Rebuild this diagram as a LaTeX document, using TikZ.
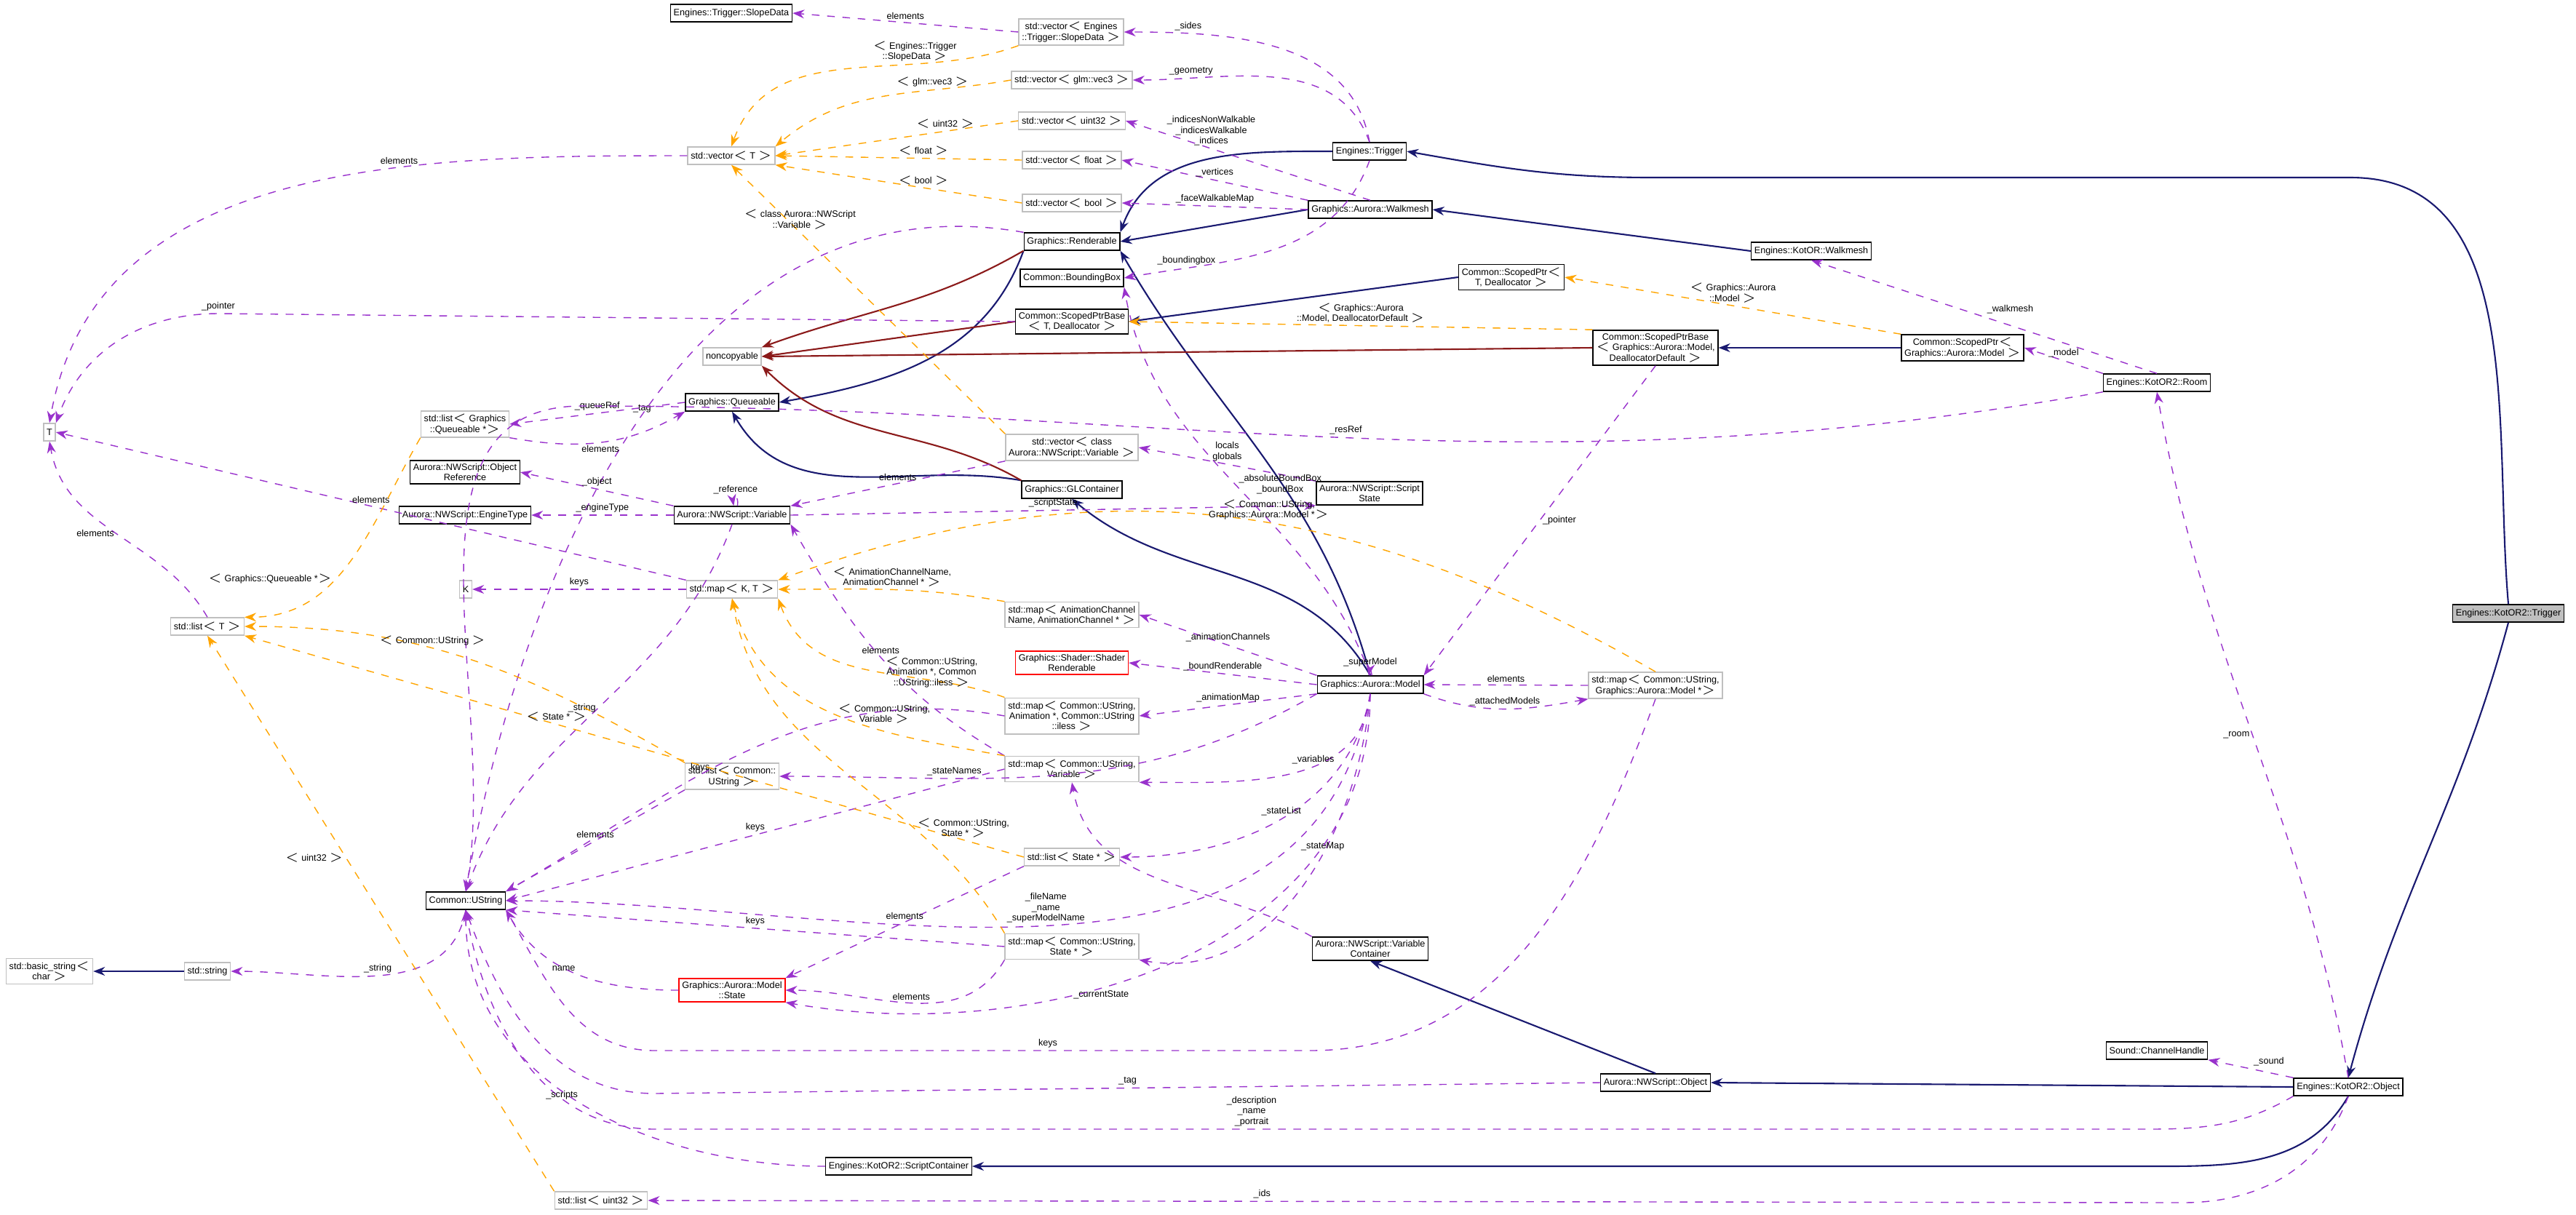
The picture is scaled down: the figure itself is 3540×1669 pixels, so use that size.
\documentclass[tikz,border=0pt]{standalone}
\usepackage{fontspec}
\setmainfont{Liberation Sans}
\usetikzlibrary{arrows.meta, positioning}
\definecolor{inhblue}{RGB}{25,25,112}
\definecolor{privred}{RGB}{139,26,26}
\definecolor{usepurple}{RGB}{153,50,204}
\definecolor{tplorange}{RGB}{255,165,0}
\tikzset{
  cls/.style={rectangle, draw=black, fill=white, inner sep=1.2pt, minimum height=0.24cm, align=center, font=\fontsize{3.6}{4.1}\selectfont},
  tplcls/.style={cls, draw=gray!50},
  redcls/.style={cls, draw=red},
  inh/.style={draw=inhblue, semithick, -{Stealth[length=1.6mm]}},
  priv/.style={draw=privred, semithick, -{Stealth[length=1.6mm]}},
  use/.style={draw=usepurple, dashed, -{Stealth[length=1.6mm]}},
  tmp/.style={draw=tplorange, dashed, -{Stealth[length=1.6mm]}},
  lbl/.style={font=\fontsize{3.6}{4.1}\selectfont, align=center, inner sep=1pt}
}
\begin{document}
\begin{tikzpicture}[x=0.01cm, y=-0.01cm]
\useasboundingbox (0,0) rectangle (3540,1669);

% classes
\node (SlopeData) [cls] at (1005,18) {Engines::Trigger::SlopeData};
\node (vecSlope) [tplcls] at (1472,44) {std::vector$<$ Engines\\::Trigger::SlopeData $>$};
\node (vecVec3) [tplcls] at (1473,110) {std::vector$<$ glm::vec3 $>$};
\node (vecUint) [tplcls] at (1473,166) {std::vector$<$ uint32 $>$};
\node (vecFloat) [tplcls] at (1473,220) {std::vector$<$ float $>$};
\node (vecBool) [tplcls] at (1473,279) {std::vector$<$ bool $>$};
\node (vecT) [tplcls] at (1005,214) {std::vector$<$ T $>$};
\node (engTrigger) [cls] at (1882,208) {Engines::Trigger};
\node (walkmesh) [cls] at (1883,288) {Graphics::Aurora::Walkmesh};
\node (renderable) [cls] at (1473,332) {Graphics::Renderable};
\node (bbox) [cls] at (1473,382) {Common::BoundingBox};
\node (sptrBase) [cls] at (1473,442) {Common::ScopedPtrBase\\$<$ T, Deallocator $>$};
\node (sptr) [cls] at (2077,381) {Common::ScopedPtr$<$\\T, Deallocator $>$};
\node (sptrBaseModel) [cls] at (2275,478) {Common::ScopedPtrBase\\$<$ Graphics::Aurora::Model,\\DeallocatorDefault $>$};
\node (kWalkmesh) [cls] at (2489,345) {Engines::KotOR::Walkmesh};
\node (sptrModel) [cls] at (2697,478) {Common::ScopedPtr$<$\\Graphics::Aurora::Model $>$};
\node (room) [cls] at (2964,526) {Engines::KotOR2::Room};
\node (kTrigger) [cls, fill=gray!50] at (3447,843) {Engines::KotOR2::Trigger};
\node (noncopy) [tplcls] at (1006,490) {noncopyable};
\node (queueable) [cls] at (1006,553) {Graphics::Queueable};
\node (listQ) [tplcls] at (639,583) {std::list$<$ Graphics\\::Queueable *$>$};
\node (T) [tplcls] at (68,594) {T};
\node (objRef) [cls] at (639,649) {Aurora::NWScript::Object\\Reference};
\node (engineType) [cls] at (639,708) {Aurora::NWScript::EngineType};
\node (variable) [cls] at (1006,708) {Aurora::NWScript::Variable};
\node (vecVar) [tplcls] at (1473,615) {std::vector$<$ class\\Aurora::NWScript::Variable $>$};
\node (glContainer) [cls] at (1473,673) {Graphics::GLContainer};
\node (scriptState) [cls] at (1882,678) {Aurora::NWScript::Script\\State};
\node (K) [tplcls] at (640,810) {K};
\node (mapKT) [tplcls] at (1006,810) {std::map$<$ K, T $>$};
\node (listT) [tplcls] at (285,861) {std::list$<$ T $>$};
\node (mapAnimCh) [tplcls] at (1473,845) {std::map$<$ AnimationChannel\\Name, AnimationChannel * $>$};
\node (shaderRend) [redcls] at (1473,911) {Graphics::Shader::Shader\\Renderable};
\node (model) [cls] at (1883,941) {Graphics::Aurora::Model};
\node (mapModel) [tplcls] at (2275,942) {std::map$<$ Common::UString,\\Graphics::Aurora::Model *$>$};
\node (mapAnim) [tplcls] at (1473,984) {std::map$<$ Common::UString,\\Animation *, Common::UString\\::iless $>$};
\node (listUStr) [tplcls] at (1006,1067) {std::list$<$ Common::\\UString $>$};
\node (mapVar) [tplcls] at (1473,1057) {std::map$<$ Common::UString,\\Variable $>$};
\node (listState) [tplcls] at (1473,1178) {std::list$<$ State * $>$};
\node (ustring) [cls] at (640,1238) {Common::UString};
\node (mapState) [tplcls] at (1473,1301) {std::map$<$ Common::UString,\\State * $>$};
\node (basicStr) [tplcls] at (68,1335) {std::basic\_string$<$\\char $>$};
\node (stdString) [tplcls] at (285,1335) {std::string};
\node (mState) [redcls] at (1006,1361) {Graphics::Aurora::Model\\::State};
\node (varContainer) [cls] at (1883,1304) {Aurora::NWScript::Variable\\Container};
\node (soundCH) [cls] at (2964,1444) {Sound::ChannelHandle};
\node (nwObject) [cls] at (2275,1488) {Aurora::NWScript::Object};
\node (kObject) [cls] at (3227,1494) {Engines::KotOR2::Object};
\node (scriptCont) [cls] at (1235,1603) {Engines::KotOR2::ScriptContainer};
\node (listUint) [tplcls] at (826,1650) {std::list$<$ uint32 $>$};

% inheritance
\draw[inh] (kTrigger.north) to[out=95,in=0] (3230,244) -- (2270,244) to[out=180,in=-10] (engTrigger.east);
\draw[inh] (kTrigger.south) to[out=-105,in=75] (kObject.north);
\draw[inh] (engTrigger.west) to[out=180,in=70] (renderable.north east);
\draw[inh] (walkmesh.west) -- (renderable.east);
\draw[inh] (kWalkmesh.west) -- (walkmesh.east);
\draw[inh] (sptr.west) -- (sptrBase.east);
\draw[inh] (sptrModel.west) -- (sptrBaseModel.east);
\draw[inh] (renderable.south west) to[out=-110,in=10] (queueable.east);
\draw[inh] (glContainer.north west) to[out=170,in=-60] (queueable.south);
\draw[inh] (model.north) to[out=105,in=-60] (renderable.south east);
\draw[inh] (model.north) to[out=120,in=-40] (glContainer.south);
\draw[inh] (nwObject.north) -- (varContainer.south);
\draw[inh] (kObject.west) -- (nwObject.east);
\draw[inh] (kObject.south) to[out=-120,in=0] (2950,1603) -- (scriptCont.east);
\draw[inh] (stdString.west) -- (basicStr.east);
\draw[priv] (renderable.south west) to[out=-150,in=20] (noncopy.north east);
\draw[priv] (sptrBase.west) -- (noncopy.east);
\draw[priv] (sptrBaseModel.west) -- (noncopy.east);
\draw[priv] (glContainer.north west) to[out=150,in=-45] (noncopy.south east);

% usage
\draw[use] (vecSlope.west) -- node[lbl, above]{elements} (SlopeData.east);
\draw[use] (engTrigger.north) to[out=100,in=0] node[lbl, above, pos=0.8]{\_sides} (vecSlope.east);
\draw[use] (engTrigger.north) to[out=110,in=0] node[lbl, above, pos=0.8]{\_geometry} (vecVec3.east);
\draw[use] (walkmesh.north) -- node[lbl, above, pos=0.65]{\_indicesNonWalkable\\\_indicesWalkable\\\_indices} (vecUint.east);
\draw[use] (walkmesh.north west) -- node[lbl, above]{\_vertices} (vecFloat.east);
\draw[use] (walkmesh.west) -- node[lbl, above]{\_faceWalkableMap} (vecBool.east);
\draw[use] (engTrigger.south) to[out=-110,in=10] node[lbl, above, pos=0.8]{\_boundingbox} (bbox.east);
\draw[use] (vecT.west) to[out=180,in=80] node[lbl, above, pos=0.35]{elements} (T.north);
\draw[use] (renderable.north west) to[out=170,in=80] node[lbl, above, pos=0.5]{\_tag} (ustring.north);
\draw[use] (sptrBase.west) -- (300,431) to[out=180,in=70] node[lbl, above, pos=0]{\_pointer} (T.north east);
\draw[use] (queueable.west) -- node[lbl, above]{\_queueRef} (listQ.east);
\draw[use] (listQ.south east) to[out=-10,in=-150] node[lbl, below]{elements} (queueable.south west);
\draw[use] (variable.north west) -- node[lbl, above]{\_object} (objRef.east);
\draw[use] (variable.west) -- node[lbl, above]{\_engineType} (engineType.east);
\draw[use] (variable.60) to[out=80,in=100,looseness=8] node[lbl, above]{\_reference} (variable.80);
\draw[use] (mapKT.north west) -- node[lbl, above]{elements} (T.east);
\draw[use] (mapKT.west) -- node[lbl, above]{keys} (K.east);
\draw[use] (listT.north) to[out=120,in=-80] node[lbl, left]{elements} (T.south);
\draw[use] (vecVar.south west) -- node[lbl, above]{elements} (variable.north east);
\draw[use] (scriptState.north west) -- node[lbl, above]{locals\\globals} (vecVar.east);
\draw[use] (variable.east) -- node[lbl, above]{\_scriptState} (scriptState.south west);
\draw[use] (model.north) to[out=110,in=-80] node[lbl, right, pos=0.5]{\_absoluteBoundBox\\\_boundBox} (bbox.south east);
\draw[use] (sptrBaseModel.south) -- node[lbl, right]{\_pointer} (model.north east);
\draw[use] (room.north west) -- node[lbl, above]{\_model} (sptrModel.east);
\draw[use] (room.north) -- node[lbl, above right]{\_walkmesh} (kWalkmesh.south);
\draw[use] (room.south west) to[out=190,in=0] node[lbl, above]{\_resRef} (800,558) to[out=180,in=80] (ustring.north);
\draw[use] (model.north west) -- node[lbl, above]{\_animationChannels} (mapAnimCh.east);
\draw[use] (model.west) -- node[lbl, above]{\_boundRenderable} (shaderRend.east);
\draw[use] (model.south west) -- node[lbl, above]{\_animationMap} (mapAnim.east);
\draw[use] (model.80) to[out=100,in=80,looseness=6] node[lbl, above]{\_superModel} (model.100);
\draw[use] (mapModel.west) -- node[lbl, above]{elements} (model.east);
\draw[use] (model.south east) to[out=-20,in=190] node[lbl, above]{\_attachedModels} (mapModel.south west);
\draw[use] (listUStr.south west) -- node[lbl, above]{elements} (ustring.north east);
\draw[use] (mapVar.west) -- node[lbl, above]{keys} (ustring.east);
\draw[use] (mapVar.north west) to[out=150,in=-60] node[lbl, above]{elements} (variable.south east);
\draw[use] (mapAnim.west) to[out=170,in=30] node[lbl, above, pos=0.6]{keys} (ustring.north east);
\draw[use] (model.south west) to[out=-150,in=0] node[lbl, above, pos=0.7]{\_stateNames} (listUStr.east);
\draw[use] (model.south) to[out=-100,in=0] node[lbl, above, pos=0.5]{\_stateList} (listState.east);
\draw[use] (model.south) to[out=-100,in=0] node[lbl, above, pos=0.5]{\_fileName\\\_name\\\_superModelName} (ustring.east);
\draw[use] (model.south) to[out=-95,in=0] node[lbl, above, pos=0.4]{\_variables} (mapVar.south east);
\draw[use] (model.south) to[out=-95,in=-10] node[lbl, above, pos=0.4]{\_stateMap} (mapState.south east);
\draw[use] (model.south) to[out=-90,in=-10] node[lbl, below, pos=0.6]{\_currentState} (mState.south east);
\draw[use] (listState.south west) -- node[lbl, above]{elements} (mState.north east);
\draw[use] (mapState.south west) to[out=-120,in=0] node[lbl, above]{elements} (mState.east);
\draw[use] (mapState.west) -- node[lbl, above]{keys} (ustring.south east);
\draw[use] (mState.west) to[out=180,in=-60] node[lbl, above left]{name} (ustring.south east);
\draw[use] (ustring.south) to[out=-100,in=0] node[lbl, above]{\_string} (stdString.east);
\draw[use] (variable.south) to[out=-110,in=70] node[lbl, left, pos=0.5]{\_string} (ustring.north);
\draw[use] (nwObject.west) -- node[lbl, above]{\_tag} (900,1503) to[out=180,in=-70] (ustring.south);
\draw[use] (kObject.south west) to[out=-150,in=0] (2950,1552) -- node[lbl, above, pos=0.6]{\_description\\\_name\\\_portrait} (900,1552) to[out=180,in=-80] (ustring.south);
\draw[use] (mapModel.south) to[out=-110,in=0] (1800,1444) -- node[lbl, above, pos=0.4]{keys} (900,1444) to[out=180,in=-60] (ustring.south east);
\draw[use] (scriptCont.west) to[out=180,in=-90] node[lbl, above left]{\_scripts} (ustring.south);
\draw[use] (varContainer.north west) to[out=150,in=-80] (mapVar.south);
\draw[use] (kObject.north west) -- node[lbl, above right]{\_sound} (soundCH.south east);
\draw[use] (kObject.north) to[out=100,in=-80] node[lbl, left]{\_room} (room.south);
\draw[use] (kObject.south) to[out=-110,in=0] (3000,1653) -- node[lbl, above, pos=0.6]{\_ids} (listUint.east);

% templates
\draw[tmp] (vecSlope.south west) to[out=200,in=70] node[lbl, above, pos=0.3]{$<$ Engines::Trigger\\::SlopeData $>$} (vecT.north);
\draw[tmp] (vecVec3.west) to[out=190,in=40] node[lbl, above, pos=0.3]{$<$ glm::vec3 $>$} (vecT.north east);
\draw[tmp] (vecUint.west) -- node[lbl, above, pos=0.3]{$<$ uint32 $>$} (vecT.east);
\draw[tmp] (vecFloat.west) -- node[lbl, above, pos=0.4]{$<$ float $>$} (vecT.east);
\draw[tmp] (vecBool.west) -- node[lbl, above, pos=0.4]{$<$ bool $>$} (vecT.south east);
\draw[tmp] (vecVar.north west) -- node[lbl, above, pos=0.75]{$<$ class Aurora::NWScript\\::Variable $>$} (vecT.south);
\draw[tmp] (sptrModel.north west) -- node[lbl, above]{$<$ Graphics::Aurora\\::Model $>$} (sptr.east);
\draw[tmp] (sptrBaseModel.north west) -- node[lbl, above]{$<$ Graphics::Aurora\\::Model, DeallocatorDefault $>$} (sptrBase.east);
\draw[tmp] (listQ.south west) to[out=-120,in=0] node[lbl, left, pos=0.6]{$<$ Graphics::Queueable *$>$} (listT.north east);
\draw[tmp] (listUStr.north west) to[out=150,in=0] node[lbl, above, pos=0.6]{$<$ Common::UString $>$} (listT.east);
\draw[tmp] (listState.west) -- node[lbl, above, pos=0.6]{$<$ State * $>$} (listT.south east);
\draw[tmp] (listUint.north west) -- node[lbl, left, pos=0.6]{$<$ uint32 $>$} (listT.south);
\draw[tmp] (mapAnimCh.north west) to[out=170,in=0] node[lbl, above, pos=0.5]{$<$ AnimationChannelName,\\AnimationChannel * $>$} (mapKT.east);
\draw[tmp] (mapAnim.north west) to[out=160,in=-70] node[lbl, right, pos=0.45]{$<$ Common::UString,\\Animation *, Common\\::UString::iless $>$} (mapKT.south east);
\draw[tmp] (mapVar.north west) to[out=170,in=-75] node[lbl, right, pos=0.5]{$<$ Common::UString,\\Variable $>$} (mapKT.south);
\draw[tmp] (mapState.north west) to[out=120,in=-80] node[lbl, right, pos=0.3]{$<$ Common::UString,\\State * $>$} (mapKT.south);
\draw[tmp] (mapModel.north) to[out=150,in=20] node[lbl, above, pos=0.45]{$<$ Common::UString,\\Graphics::Aurora::Model *$>$} (mapKT.north east);
\end{tikzpicture}
\end{document}
